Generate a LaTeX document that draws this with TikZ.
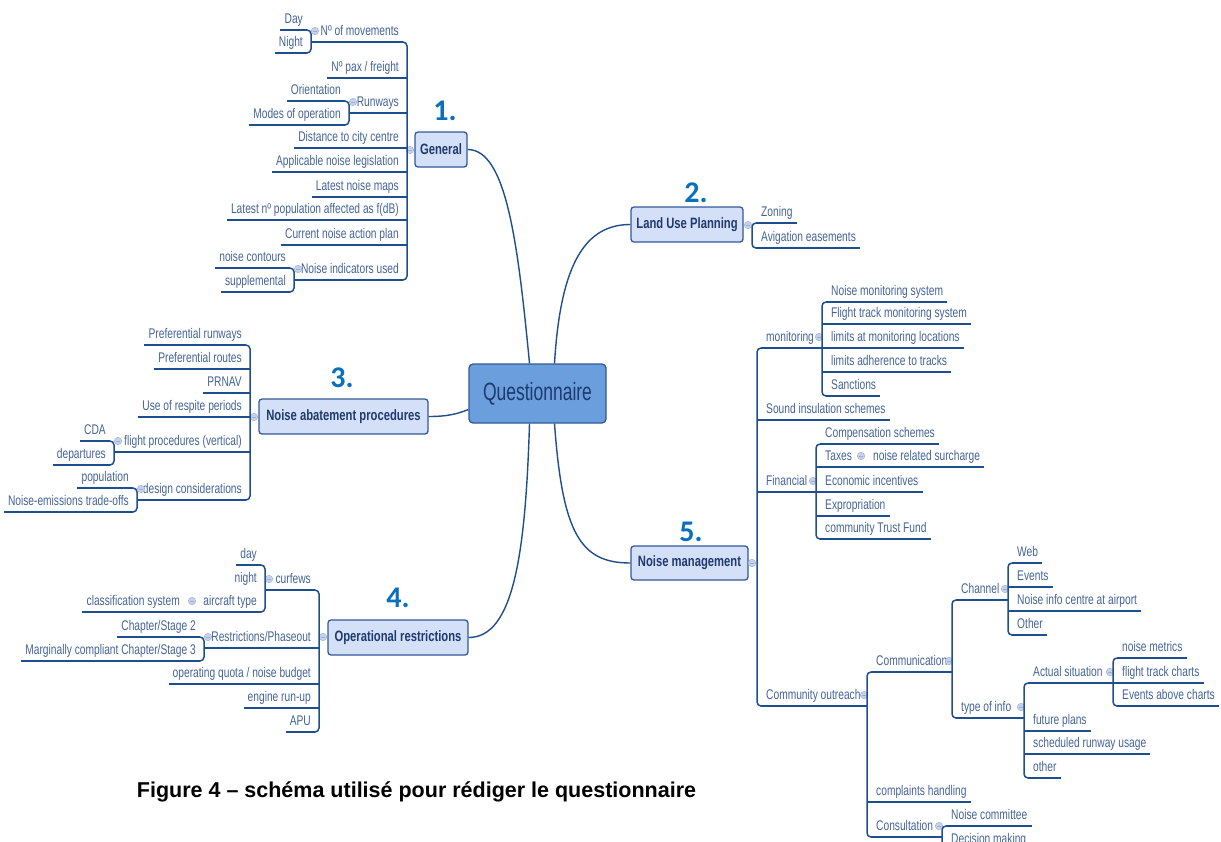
\documentclass[tikz,border=0pt]{standalone}
\usepackage{fontspec}
\setmainfont{Liberation Sans}
\newfontfamily\labff[FakeStretch=0.73]{Liberation Sans}
\newfontfamily\topff[FakeStretch=0.75]{Liberation Sans}
\newfontfamily\qff[FakeStretch=0.70]{Liberation Sans}
\newfontfamily\numff{Carlito}
\usetikzlibrary{calc}
\definecolor{linec}{HTML}{1F4E8C}
\definecolor{labc}{HTML}{44649A}
\definecolor{boxfill}{HTML}{D4E0F8}
\definecolor{boxb}{HTML}{34589A}
\definecolor{boxtext}{HTML}{1F3A6E}
\definecolor{qfill}{HTML}{6A9EDC}
\definecolor{mkfill}{HTML}{C7D1EA}
\definecolor{mkdraw}{HTML}{9DAED3}
\definecolor{numc}{HTML}{0A6FBF}
\newcommand\labfont{\labff\fontsize{14}{16}\selectfont}
\newcommand\topfont{\topff\bfseries\fontsize{15}{17}\selectfont}
\newcommand\qfont{\qff\fontsize{25}{28}\selectfont}
\newcommand\numfont{\numff\bfseries\fontsize{30}{32}\selectfont}
\newcommand\capfont{\bfseries\fontsize{21.5}{24}\selectfont}
\tikzset{
  ln/.style={draw=linec, line width=1.5pt},
  br/.style={ln, rounded corners=4pt},
  cv/.style={draw=linec, line width=1.4pt},
  lab/.style={font=\labfont, text=labc, inner sep=0pt},
  topic/.style={draw=boxb, fill=boxfill, line width=1.3pt, rounded corners=3pt, font=\topfont, text=boxtext, inner sep=0pt},
  mk/.style={circle, fill=mkfill, draw=mkdraw, line width=0.4pt, minimum size=7.5pt, inner sep=0pt},
  num/.style={font=\numfont, text=numc, inner sep=0pt, anchor=base},
}
% left leaf: name, bracket x, line y, text, gap at bracket
\newcommand\leafL[5]{%
  \node[lab, anchor=base east] (#1) at ({#2-8},{#3-7}) {#4};
  \draw[ln] ($(#1.west |- 0,#3)+(-4,0)$) -- ({#2-#5},#3);}
% left parent: name, bracket x, line y, text, child bracket x, gap
\newcommand\parL[6]{%
  \node[lab, anchor=base east] (#1) at ({#2-8},{#3-7}) {#4};
  \draw[ln] (#5,#3) -- ({#2-#6},#3);
  \mmark{#1m}{#5+4}{#3-11}}
% right leaf
\newcommand\leafR[5]{%
  \node[lab, anchor=base west] (#1) at ({#2+9},{#3-7}) {#4};
  \draw[ln] ({#2+#5},#3) -- ($(#1.east |- 0,#3)+(4,0)$);}
% right parent
\newcommand\parR[6]{%
  \node[lab, anchor=base west] (#1) at ({#2+9},{#3-7}) {#4};
  \draw[ln] ({#2+#6},#3) -- (#5,#3);
  \mmark{#1m}{#5-3}{#3-11}}
\newcommand\brL[3]{\draw[br] ({#1-5},#2) -- (#1,#2) -- (#1,#3) -- ({#1-5},#3);}
\newcommand\brR[3]{\draw[br] ({#1+5},#2) -- (#1,#2) -- (#1,#3) -- ({#1+5},#3);}
\newcommand\mmark[3]{\node[mk] (#1) at (#2,#3) {};
  \draw[mkdraw, line width=0.9pt] ($(#1.center)+(-2,0)$) -- ($(#1.center)+(2,0)$);}
\begin{document}
\begin{tikzpicture}[x=1pt,y=-1pt]
\useasboundingbox (0,0) rectangle (1221,841);
\fill[white] (0,0) rectangle (1221,841);
\clip (0,0) rectangle (1221,841);

% ---------- central ----------
\node[draw=boxb, fill=qfill, line width=1.3pt, rounded corners=4pt, minimum width=137, minimum height=59, inner sep=0pt, font=\qfont, text=boxtext] (q) at (537.5,393.5) {Questionnaire};

% ---------- General ----------
\node[topic, minimum width=52, minimum height=35] (gen) at (441,149.5) {General};
\mmark{genm}{410}{150}
\brL{407}{42}{280}
\parL{nmov}{407}{42}{Nº of movements}{311}{4}
\leafL{pax}{407}{78}{Nº pax / freight}{0}
\parL{rwy}{407}{113}{Runways}{349}{0}
\leafL{dist}{407}{148}{Distance to city centre}{0}
\leafL{leg}{407}{172}{Applicable noise legislation}{0}
\leafL{maps}{407}{197}{Latest noise maps}{0}
\leafL{pop}{407}{220}{Latest nº population affected as f(dB)}{0}
\leafL{nap}{407}{245}{Current noise action plan}{0}
\parL{ind}{407}{280}{Noise indicators used}{294}{4}
\brL{311}{30}{53}
\leafL{day}{311}{30}{Day}{4}
\leafL{night}{311}{53}{Night}{4}
\brL{349}{101}{125}
\leafL{ori}{349}{101}{Orientation}{4}
\leafL{modes}{349}{125}{Modes of operation}{4}
\brL{294}{268}{292}
\leafL{cont}{294}{268}{noise contours}{4}
\leafL{supp}{294}{292}{supplemental}{4}

% ---------- Noise abatement procedures ----------
\node[topic, minimum width=169, minimum height=35] (nab) at (343.5,416.5) {Noise abatement procedures};
\mmark{nabm}{254}{417}
\brL{250}{345}{500}
\leafL{prw}{250}{345}{Preferential runways}{4}
\leafL{prt}{250}{369}{Preferential routes}{0}
\leafL{prnav}{250}{393}{PRNAV}{0}
\leafL{resp}{250}{417}{Use of respite periods}{0}
\parL{fpv}{250}{452}{flight procedures (vertical)}{114}{0}
\parL{dcons}{250}{500}{design considerations}{137}{4}
\brL{114}{441}{465}
\leafL{cda}{114}{441}{CDA}{4}
\leafL{dep}{114}{465}{departures}{4}
\brL{137}{488}{512}
\leafL{popn}{137}{488}{population}{4}
\leafL{trade}{137}{512}{Noise-emissions trade-offs}{4}

% ---------- Operational restrictions ----------
\node[topic, minimum width=140, minimum height=35] (opr) at (398,637.5) {Operational restrictions};
\mmark{oprm}{323}{637}
\brL{319}{590}{732}
\parL{curf}{319}{590}{curfews}{265}{4}
\parL{phase}{319}{648}{Restrictions/Phaseout}{204}{0}
\leafL{quota}{319}{684}{operating quota / noise budget}{0}
\leafL{runup}{319}{708}{engine run-up}{0}
\leafL{apu}{319}{732}{APU}{4}
\brL{265}{565}{612}
\leafL{cday}{265}{565}{day}{4}
\node[lab, anchor=base east] (cnight) at (257,582) {night};
\parL{actype}{265}{612}{aircraft type}{188}{4}
\leafL{clas}{188}{612}{classification system}{0}
\brL{204}{637}{661}
\leafL{chtwo}{204}{637}{Chapter/Stage 2}{4}
\leafL{chthree}{204}{661}{Marginally compliant Chapter/Stage 3}{4}

% ---------- Land Use Planning ----------
\node[topic, minimum width=112, minimum height=35] (lup) at (687,224.5) {Land Use Planning};
\mmark{lupm}{748}{225}
\brR{752}{223}{248}
\leafR{zon}{752}{223}{Zoning}{4}
\leafR{avig}{752}{248}{Avigation easements}{4}

% ---------- Noise management ----------
\node[topic, minimum width=117, minimum height=34] (nm) at (689.5,563) {Noise management};
\mmark{nmm}{752}{563}
\brR{757}{348}{706}
\parR{mon}{757}{348}{monitoring}{822}{4}
\leafR{sis}{757}{420}{Sound insulation schemes}{0}
\parR{fin}{757}{492}{Financial}{816}{0}
\parR{cout}{757}{706}{Community outreach}{867}{4}
\brR{822}{302}{396}
\leafR{nms}{822}{302}{Noise monitoring system}{4}
\leafR{ftms}{822}{324}{Flight track monitoring system}{0}
\leafR{lml}{822}{348}{limits at monitoring locations}{0}
\leafR{lat}{822}{372}{limits adherence to tracks}{0}
\leafR{sanc}{822}{396}{Sanctions}{4}
\brR{816}{444}{539}
\leafR{comp}{816}{444}{Compensation schemes}{4}
\parR{tax}{816}{467}{Taxes}{864}{0}
\leafR{surch}{864}{467}{noise related surcharge}{0}
\leafR{econ}{816}{492}{Economic incentives}{0}
\leafR{expr}{816}{516}{Expropriation}{0}
\leafR{ctf}{816}{539}{community Trust Fund}{4}
\brR{867}{672}{837}
\parR{comm}{867}{672}{Communication}{952}{4}
\leafR{compl}{867}{802}{complaints handling}{0}
\parR{cons}{867}{837}{Consultation}{942}{4}
\brR{952}{600}{718}
\parR{chan}{952}{600}{Channel}{1008}{4}
\parR{toi}{952}{718}{type of info}{1024}{4}
\brR{1008}{563}{635}
\leafR{web}{1008}{563}{Web}{4}
\leafR{evts}{1008}{587}{Events}{0}
\leafR{nic}{1008}{611}{Noise info centre at airport}{0}
\leafR{oth}{1008}{635}{Other}{4}
\brR{1024}{683}{778}
\parR{act}{1024}{683}{Actual situation}{1113}{4}
\leafR{fut}{1024}{731}{future plans}{0}
\leafR{sched}{1024}{754}{scheduled runway usage}{0}
\leafR{othtwo}{1024}{778}{other}{4}
\brR{1113}{658}{706}
\leafR{nmet}{1113}{658}{noise metrics}{4}
\leafR{ftc}{1113}{683}{flight track charts}{0}
\leafR{eac}{1113}{706}{Events above charts}{4}
\brR{942}{826}{850}
\leafR{ncom}{942}{826}{Noise committee}{4}
\leafR{dmak}{942}{850}{Decision making}{4}

% ---------- curves ----------
\draw[cv] (gen.east) .. controls +(38,0) and +(-12,-125) .. ($(q.north)+(-8,0)$);
\draw[cv] ($(q.north)+(17,0)$) .. controls +(6,-100) and +(-45,0) .. (lup.west);
\draw[cv] (nab.east) .. controls +(20,0) and +(-10,4) .. ($(q.west)+(0,16)$);
\draw[cv] ($(q.south)+(-8,0)$) .. controls +(-4,130) and +(45,0) .. (opr.east);
\draw[cv] ($(q.south)+(17,0)$) .. controls +(8,110) and +(-50,0) .. (nm.west);

% ---------- numbers ----------
\node[num] (n1) at (445,120) {1.};
\node[num] (n2) at (696,202) {2.};
\node[num] (n3) at (342,387) {3.};
\node[num] (n4) at (398,607) {4.};
\node[num] (n5) at (691,541) {5.};

% ---------- caption ----------
\node[font=\capfont, anchor=base, inner sep=0pt] (cap) at (416.5,797) {Figure 4 – schéma utilisé pour rédiger le questionnaire};
\end{tikzpicture}
\end{document}
